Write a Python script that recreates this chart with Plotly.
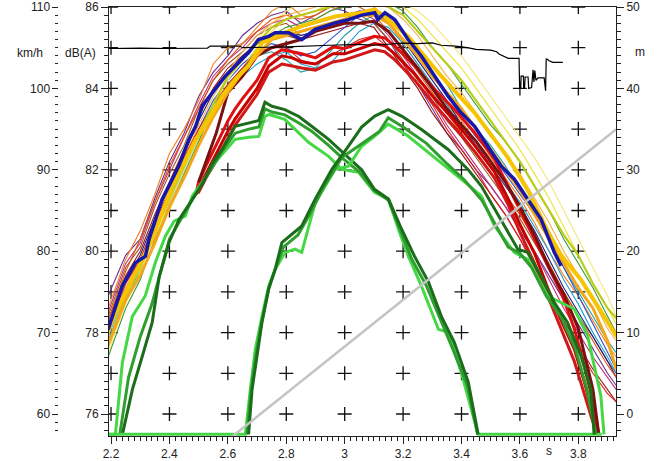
import plotly.graph_objects as go

# ---------------- data ----------------
# common time base for the thin level traces (s)
THIN_T = [2.19, 2.25, 2.30, 2.35, 2.40, 2.45, 2.50, 2.55, 2.60, 2.65, 2.70, 2.75,
          2.80, 2.85, 2.90, 2.95, 3.00, 3.05, 3.10, 3.15, 3.20, 3.25, 3.30, 3.35,
          3.40, 3.45, 3.50, 3.55, 3.60, 3.65, 3.70, 3.75, 3.80, 3.85, 3.90, 3.93]

thin_purple = [78.9, 79.9, 80.3, 81.3, 82.2, 82.9, 83.8, 84.4, 84.8, 85.3, 85.6, 85.8, 85.9, 85.6, 85.8, 86.0, 85.9, 85.7,
               85.6, 85.2, 84.6, 84.1, 83.5, 82.9, 82.5, 82.0, 81.6, 81.1, 80.5, 80.0, 79.4, 78.8, 78.2, 77.6, 77.0, 76.7]
thin_orange = [78.6, 79.8, 80.5, 81.4, 82.4, 83.0, 83.7, 84.6, 85.0, 85.1, 85.5, 85.9, 86.1, 85.8, 85.7, 85.9, 86.1, 86.2,
               86.0, 85.6, 85.1, 84.6, 84.0, 83.6, 83.2, 82.7, 82.3, 81.8, 81.3, 80.7, 80.0, 79.4, 78.9, 78.3, 77.7, 77.4]
thin_brown = [78.4, 79.6, 80.1, 81.1, 81.9, 82.6, 83.5, 84.2, 84.6, 84.9, 85.3, 85.5, 85.6, 85.3, 85.4, 85.5, 85.6, 85.8,
              85.6, 85.2, 84.7, 84.2, 83.8, 83.2, 82.8, 82.3, 81.8, 81.3, 80.8, 80.2, 79.6, 79.0, 78.4, 77.9, 77.3, 77.0]
thin_darkred = [78.3, 79.4, 80.0, 80.9, 81.7, 82.5, 83.3, 84.0, 84.5, 84.8, 85.1, 85.2, 85.3, 85.2, 85.3, 85.4, 85.5, 85.6,
                85.5, 85.0, 84.5, 84.0, 83.4, 82.9, 82.4, 81.9, 81.4, 80.9, 80.3, 79.7, 79.0, 78.3, 77.7, 77.1, 76.6, 76.3]
thin_teal = [77.8, 78.9, 79.5, 80.5, 81.2, 82.0, 82.8, 83.5, 84.1, 84.5, 84.8, 84.9, 84.7, 84.4, 84.5, 84.9, 85.3, 85.6,
             85.8, 85.7, 85.4, 85.0, 84.6, 84.1, 83.5, 83.0, 82.6, 82.1, 81.5, 80.9, 80.3, 79.6, 79.0, 78.4, 77.8, 77.5]
thin_blue = [78.0, 79.1, 79.7, 80.6, 81.4, 82.2, 83.0, 83.7, 84.2, 84.6, 84.9, 85.1, 85.0, 84.8, 84.9, 85.2, 85.5, 85.8,
             85.9, 85.8, 85.4, 84.9, 84.4, 83.9, 83.3, 82.8, 82.4, 81.9, 81.4, 80.9, 80.3, 79.6, 78.9, 78.2, 77.5, 77.1]
thin_green = [77.4, 78.6, 79.3, 80.3, 81.1, 81.9, 82.7, 83.5, 84.1, 84.5, 85.0, 85.3, 85.5, 85.6, 85.7, 85.9, 86.0, 86.1,
              86.2, 86.1, 85.9, 85.5, 85.0, 84.6, 84.1, 83.6, 83.1, 82.7, 82.2, 81.6, 81.0, 80.3, 79.7, 79.1, 78.4, 78.0]
thin_yellow = [77.6, 78.8, 79.4, 80.2, 81.0, 81.8, 82.6, 83.4, 84.0, 84.5, 85.0, 85.4, 85.7, 85.8, 85.9, 86.1, 86.2, 86.3,
               86.3, 86.2, 86.0, 85.7, 85.3, 84.9, 84.5, 84.0, 83.5, 83.0, 82.5, 81.9, 81.3, 80.6, 79.9, 79.2, 78.6, 78.2]
thin_paleyellow = [77.5, 78.7, 79.5, 80.4, 81.2, 82.0, 82.8, 83.6, 84.2, 84.7, 85.2, 85.6, 85.9, 86.1, 86.2, 86.3, 86.3, 86.4,
                   86.4, 86.3, 86.1, 85.9, 85.6, 85.2, 84.8, 84.3, 83.8, 83.3, 82.8, 82.3, 81.7, 81.0, 80.3, 79.6, 78.9, 78.4]
thin_yellowgreen = [77.7, 78.9, 79.6, 80.5, 81.3, 82.1, 82.9, 83.6, 84.3, 84.7, 85.1, 85.5, 85.7, 85.8, 85.9, 86.0, 86.1, 86.2,
                    86.1, 86.0, 85.8, 85.4, 85.0, 84.6, 84.2, 83.7, 83.2, 82.7, 82.2, 81.6, 81.0, 80.4, 79.9, 79.2, 78.6, 78.35]
thin_magenta = [78.5, 79.7, 80.2, 81.2, 82.0, 82.8, 83.6, 84.3, 84.7, 85.0, 85.4, 85.6, 85.7, 85.5, 85.6, 85.7, 85.8, 85.9,
                85.7, 85.3, 84.8, 84.3, 83.7, 83.1, 82.6, 82.1, 81.6, 81.1, 80.6, 80.0, 79.3, 78.6, 78.0, 77.4, 76.9, 76.6]
thin_navy = [78.2, 79.3, 79.9, 80.8, 81.6, 82.4, 83.2, 83.9, 84.4, 84.8, 85.1, 85.3, 85.4, 85.3, 85.4, 85.6, 85.7, 85.9,
             85.9, 85.6, 85.2, 84.7, 84.2, 83.7, 83.1, 82.6, 82.1, 81.6, 81.1, 80.5, 79.8, 79.1, 78.5, 77.9, 77.3, 76.9]
thin_cyan = [77.9, 79.0, 79.6, 80.5, 81.3, 82.1, 82.9, 83.6, 84.0, 84.3, 84.6, 84.8, 84.9, 84.6, 84.5, 84.6, 85.0, 85.4,
             85.6, 85.5, 85.1, 84.6, 84.1, 83.6, 83.0, 82.6, 82.2, 81.7, 81.2, 80.6, 80.0, 79.3, 78.7, 78.0, 77.4, 77.0]
thin_orangered = [78.3, 79.5, 80.3, 81.2, 82.1, 82.8, 83.5, 84.2, 84.7, 85.1, 85.4, 85.7, 85.8, 85.7, 85.8, 86.0, 86.1, 86.0,
                  85.8, 85.4, 84.9, 84.4, 83.9, 83.4, 82.9, 82.4, 81.9, 81.4, 80.9, 80.3, 79.7, 79.0, 78.4, 77.8, 77.2, 76.9]
thin_lightorange = [77.9, 79.1, 79.8, 80.7, 81.5, 82.3, 83.1, 83.8, 84.4, 84.9, 85.3, 85.6, 85.8, 85.9, 86.0, 86.2, 86.2, 86.3,
                    86.2, 86.0, 85.7, 85.3, 84.8, 84.3, 83.9, 83.4, 82.9, 82.4, 81.9, 81.3, 80.7, 80.0, 79.4, 78.8, 78.1, 77.8]
thin_red = [78.1, 79.2, 79.8, 80.7, 81.5, 82.3, 83.0, 83.6, 84.1, 84.5, 84.9, 85.0, 85.0, 84.7, 84.6, 84.8, 85.0, 85.2,
            85.3, 85.0, 84.6, 84.1, 83.6, 83.0, 82.5, 82.0, 81.4, 80.9, 80.3, 79.6, 78.9, 78.2, 77.6, 77.0, 76.5, 76.3]

# red level traces (dB(A))
RED_T = [2.49, 2.495, 2.50, 2.525, 2.55, 2.58, 2.60, 2.625, 2.65, 2.70, 2.74, 2.785, 2.82, 2.853, 2.90, 2.96, 3.00,
         3.058, 3.103, 3.137, 3.172, 3.24, 3.308, 3.376, 3.445, 3.513, 3.559, 3.604, 3.650, 3.695, 3.741, 3.786,
         3.82, 3.85, 3.87]
red_a = [81.4, 81.55, 81.7, 82.1, 82.45, 82.9, 83.2, 83.5, 83.75, 84.2, 84.75, 84.95, 84.9, 84.85, 84.75, 85.02, 84.98,
         85.16, 85.28, 85.24, 85.04, 84.55, 83.98, 83.48, 82.91, 82.26, 81.6, 80.95, 80.29, 79.64, 78.99, 78.1,
         77.2, 76.3, 75.5]
red_b = [81.4, 81.5, 81.55, 81.9, 82.25, 82.65, 82.95, 83.25, 83.5, 84.0, 84.55, 84.8, 84.75, 84.65, 84.6, 84.85, 84.85,
         85.0, 85.1, 85.05, 84.85, 84.35, 83.75, 83.2, 82.6, 81.95, 81.3, 80.6, 79.95, 79.1, 78.3, 77.6,
         76.8, 76.0, 75.5]
red_c = [81.4, 81.45, 81.45, 81.8, 82.1, 82.5, 82.8, 83.1, 83.35, 83.85, 84.4, 84.6, 84.55, 84.5, 84.45, 84.65, 84.7,
         84.85, 84.95, 84.9, 84.7, 84.2, 83.6, 83.05, 82.45, 81.8, 81.15, 80.4, 79.7, 78.9, 78.1, 77.3,
         76.5, 75.8, 75.5]

MAROON_T = [2.50, 2.53, 2.56, 2.58, 2.60, 2.65, 2.70, 2.75, 2.80, 2.85, 2.90, 2.95, 3.00, 3.05, 3.10, 3.15, 3.20,
            3.25, 3.30, 3.35, 3.40, 3.45, 3.50, 3.55, 3.60, 3.65, 3.70, 3.75, 3.80, 3.85, 3.87]
maroon = [81.7, 82.3, 82.9, 83.4, 83.9, 84.3, 84.8, 85.0, 85.1, 85.2, 85.4, 85.5, 85.6, 85.6, 85.65, 85.4, 84.95,
          84.5, 84.0, 83.5, 83.1, 82.7, 82.2, 81.7, 81.1, 80.4, 79.6, 78.95, 78.1, 76.6, 75.5]

BLUE_T = [2.19, 2.239, 2.284, 2.318, 2.330, 2.353, 2.375, 2.398, 2.432, 2.467, 2.490, 2.512, 2.546, 2.591, 2.625,
          2.648, 2.671, 2.705, 2.740, 2.762, 2.808, 2.853, 2.899, 2.967, 3.013, 3.058, 3.103, 3.113, 3.138, 3.172,
          3.217, 3.263, 3.308, 3.354, 3.399, 3.445, 3.490, 3.536, 3.581, 3.627, 3.672, 3.718, 3.741]
blue = [78.08, 79.15, 79.72, 79.88, 80.29, 80.79, 81.28, 81.60, 82.09, 82.75, 83.07, 83.57, 83.89, 84.30, 84.55,
        84.71, 84.88, 85.20, 85.28, 85.37, 85.37, 85.20, 85.45, 85.61, 85.69, 85.80, 85.86, 85.69, 85.86, 85.69,
        85.20, 84.79, 84.30, 83.81, 83.40, 83.07, 82.58, 82.09, 81.77, 81.28, 80.79, 79.97, 79.64]

GOLD_T = [2.182, 2.216, 2.250, 2.296, 2.341, 2.375, 2.410, 2.444, 2.490, 2.535, 2.580, 2.625, 2.671, 2.717, 2.762,
          2.853, 2.967, 3.058, 3.103, 3.149, 3.217, 3.331, 3.445, 3.559, 3.627, 3.695, 3.741, 3.809, 3.853, 3.900, 3.932]
gold = [77.92, 78.50, 78.99, 79.64, 80.29, 80.95, 81.60, 82.09, 82.75, 83.24, 83.81, 84.22, 84.55, 85.12, 85.28,
        85.53, 85.77, 85.86, 85.94, 85.69, 85.28, 84.30, 83.40, 82.30, 81.50, 80.50, 79.90, 79.30, 78.80, 78.30, 77.90]
orange_thick = [77.7, 78.8, 79.4, 80.2, 81.1, 81.8, 82.6, 83.3, 83.9, 84.4, 84.8, 85.2, 85.3, 85.4, 85.5, 85.6, 85.7, 85.8,
                85.8, 85.6, 85.2, 84.8, 84.3, 83.9, 83.5, 83.0, 82.5, 82.0, 81.5, 80.9, 80.3, 79.7, 79.1, 78.6, 77.8, 77.1]

# microphone traces, first pass-by (left) and second (right)
LD_T = [2.239, 2.273, 2.307, 2.341, 2.365, 2.399, 2.433, 2.478, 2.512, 2.546, 2.580, 2.625, 2.672, 2.706, 2.727,
        2.751, 2.795, 2.843, 2.887, 2.945, 2.990, 3.058, 3.102, 3.150, 3.195, 3.239, 3.287, 3.331, 3.375, 3.423, 3.457]
left_dark = [75.5, 76.6, 77.42, 78.25, 79.38, 80.22, 80.78, 81.28, 81.64, 82.14, 82.5, 83.07, 83.16, 83.21, 83.66,
             83.56, 83.48, 83.31, 83.07, 82.75, 82.45, 82.0, 81.52, 81.28, 80.54, 79.88, 79.24, 78.40, 77.77, 76.79, 75.5]
LM_T = [2.23, 2.26, 2.30, 2.34, 2.37, 2.40, 2.44, 2.48, 2.51, 2.55, 2.58, 2.625, 2.672, 2.706, 2.727, 2.751, 2.795,
        2.843, 2.887, 2.945, 2.990, 3.05, 3.10, 3.15, 3.19, 3.23, 3.28, 3.33, 3.37, 3.42, 3.455]
left_mid = [75.5, 76.9, 77.9, 78.7, 79.5, 80.3, 80.8, 81.3, 81.65, 82.1, 82.45, 82.9, 83.0, 83.05, 83.5, 83.42, 83.35,
            83.15, 82.95, 82.6, 82.3, 81.95, 81.5, 81.25, 80.5, 79.8, 79.15, 78.3, 77.6, 76.7, 75.5]
LB_T = [2.19, 2.215, 2.239, 2.273, 2.317, 2.352, 2.386, 2.416, 2.454, 2.478, 2.512, 2.546, 2.580, 2.625, 2.672,
        2.706, 2.727, 2.741, 2.795, 2.877, 2.945, 2.990, 3.048, 3.102, 3.150, 3.184, 3.218, 3.263, 3.321, 3.355,
        3.399, 3.444, 3.457, 3.70, 3.88]
left_bright = [75.5, 75.5, 77.27, 78.40, 78.90, 79.73, 80.37, 80.74, 80.86, 81.35, 81.69, 82.09, 82.38, 82.75, 82.80,
               82.82, 83.31, 83.36, 83.24, 82.67, 82.33, 82.01, 81.94, 81.45, 81.28, 80.54, 79.88, 79.14, 78.08, 78.01,
               77.03, 75.80, 75.5, 75.5, 75.5]

RD_T = [2.671, 2.683, 2.700, 2.717, 2.740, 2.762, 2.785, 2.853, 2.899, 2.956, 3.013, 3.058, 3.103, 3.149, 3.195,
        3.263, 3.354, 3.422, 3.468, 3.513, 3.559, 3.593, 3.627, 3.672, 3.718, 3.763, 3.809, 3.843, 3.854]
right_dark = [75.5, 76.61, 77.43, 78.26, 79.07, 79.56, 80.21, 80.62, 81.28, 82.01, 82.58, 83.05, 83.32, 83.48, 83.32,
              82.99, 82.50, 82.01, 81.60, 81.03, 80.46, 80.05, 79.97, 79.39, 78.74, 78.25, 77.43, 76.61, 75.5]
RM_T = [2.665, 2.68, 2.697, 2.717, 2.740, 2.762, 2.79, 2.84, 2.88, 2.93, 2.99, 3.04, 3.08, 3.12, 3.149, 3.20, 3.28,
        3.35, 3.41, 3.47, 3.52, 3.56, 3.60, 3.64, 3.69, 3.74, 3.79, 3.83, 3.86]
right_mid = [75.5, 76.6, 77.5, 78.3, 79.1, 79.55, 80.1, 80.4, 80.9, 81.6, 82.3, 82.55, 82.75, 82.95, 83.28, 83.05,
             82.65, 82.15, 81.75, 81.25, 80.6, 80.1, 79.95, 79.6, 78.9, 78.4, 77.6, 76.6, 75.5]
RB_T = [2.19, 2.660, 2.677, 2.694, 2.717, 2.740, 2.762, 2.796, 2.830, 2.853, 2.899, 2.967, 3.013, 3.058, 3.103,
        3.149, 3.217, 3.331, 3.399, 3.468, 3.513, 3.581, 3.627, 3.695, 3.786, 3.832, 3.877, 3.888]
right_bright = [75.5, 75.5, 76.61, 77.59, 78.41, 79.15, 79.56, 79.97, 80.05, 79.97, 81.19, 82.01, 82.09, 82.58, 82.83,
                83.12, 82.83, 82.18, 81.77, 81.36, 80.62, 79.97, 79.80, 78.90, 78.58, 77.92, 76.45, 75.5]

# vehicle speed (km/h)
SPEED_T = [2.19, 2.30, 2.40, 2.53, 2.54, 2.64, 2.65, 2.80, 2.95, 3.05, 3.10, 3.20, 3.25, 3.30, 3.33, 3.38, 3.42,
           3.45, 3.50, 3.52, 3.53, 3.54, 3.56, 3.597, 3.599, 3.603, 3.604, 3.612, 3.613, 3.616, 3.618, 3.628,
           3.630, 3.640, 3.645, 3.648, 3.651, 3.655, 3.662, 3.683, 3.688, 3.690, 3.693, 3.700, 3.713, 3.747]
speed = [104.9, 104.95, 104.9, 104.95, 105.2, 105.2, 105.0, 105.1, 105.3, 105.4, 105.3, 105.55, 105.5, 105.6, 105.3,
         105.2, 105.0, 104.8, 104.7, 104.5, 104.2, 104.0, 103.7, 103.7, 100.1, 100.1, 101.5, 101.5, 100.0, 100.1,
         101.4, 101.4, 100.0, 100.1, 102.3, 100.8, 102.2, 101.0, 101.3, 101.3, 99.7, 103.6, 103.6, 103.4, 103.2, 103.2]

# vehicle distance (m)
DIST_T = [2.60, 3.93]
distance = [-3.2, 35.0]

# axis ticks
T_TICKS = [2.2, 2.4, 2.6, 2.8, 3.0, 3.2, 3.4, 3.6, 3.8]
DB_STEPS = [76, 77, 78, 79, 80, 81, 82, 83, 84, 85, 86]

# ---------------- figure ----------------
fig = go.Figure()

# grid crosses
cx = [t for t in T_TICKS for _ in DB_STEPS]
cy = [d for _ in T_TICKS for d in DB_STEPS]
fig.add_trace(go.Scatter(x=cx, y=cy, mode="markers",
                         marker=dict(symbol="cross-thin", size=10, line=dict(width=1.3, color="#111")),
                         hoverinfo="skip"))

fig.add_trace(go.Scatter(x=DIST_T, y=distance, yaxis="y2", mode="lines",
                         line=dict(color="#c4c4c4", width=2.5)))
fig.add_trace(go.Scatter(x=SPEED_T, y=speed, yaxis="y3", mode="lines",
                         line=dict(color="#000", width=1.2)))

thin = [
    (thin_purple, "#6a2c91"), (thin_orange, "#f08020"), (thin_brown, "#9c5a2a"),
    (thin_darkred, "#a01818"), (thin_teal, "#1fa0a0"), (thin_blue, "#3050d0"),
    (thin_green, "#3a9a3a"), (thin_yellow, "#efe030"), (thin_paleyellow, "#f4e77a"),
    (thin_magenta, "#c03080"), (thin_navy, "#202080"), (thin_cyan, "#20a0d0"),
    (thin_orangered, "#e05010"), (thin_lightorange, "#f3b04a"), (thin_red, "#e02020"),
]
for vals, col in thin:
    fig.add_trace(go.Scatter(x=THIN_T, y=vals, mode="lines", line=dict(color=col, width=1.1)))
fig.add_trace(go.Scatter(x=THIN_T, y=thin_yellowgreen, mode="lines", line=dict(color="#b8cc18", width=2.2)))

for vals, col in [(red_c, "#d01818"), (red_b, "#c80000"), (red_a, "#e01010")]:
    fig.add_trace(go.Scatter(x=RED_T, y=vals, mode="lines", line=dict(color=col, width=3)))
fig.add_trace(go.Scatter(x=MAROON_T, y=maroon, mode="lines", line=dict(color="#7a1010", width=3)))

greens = [
    (LB_T, left_bright, "#45d845"), (LM_T, left_mid, "#2f9e2f"), (LD_T, left_dark, "#1b6d1b"),
    (RB_T, right_bright, "#45d845"), (RM_T, right_mid, "#2f9e2f"), (RD_T, right_dark, "#1b6d1b"),
]
for tt, vals, col in greens:
    fig.add_trace(go.Scatter(x=tt, y=vals, mode="lines", line=dict(color=col, width=3)))

fig.add_trace(go.Scatter(x=THIN_T, y=orange_thick, mode="lines", line=dict(color="#f2a61c", width=3)))
fig.add_trace(go.Scatter(x=GOLD_T, y=gold, mode="lines", line=dict(color="#f7c400", width=4)))
fig.add_trace(go.Scatter(x=BLUE_T, y=blue, mode="lines", line=dict(color="#1818a8", width=3.5)))

tickfont = dict(family="Liberation Sans, Arial, sans-serif", size=12, color="#222")
axcol = "#222"

fig.update_layout(
    width=658, height=461,
    margin=dict(l=0, r=42, t=7, b=24),
    paper_bgcolor="white", plot_bgcolor="white",
    showlegend=False,
    xaxis=dict(domain=[104 / 616, 1], range=[2.193, 3.929], tick0=2.2, dtick=0.2,
               showgrid=False, zeroline=False, showline=True, linecolor=axcol, linewidth=1, mirror=True,
               ticks="outside", ticklen=7, tickcolor=axcol, tickfont=tickfont,
               minor=dict(tick0=2.2, dtick=0.02, ticks="outside", ticklen=4, tickcolor=axcol, showgrid=False)),
    yaxis=dict(range=[75.46, 86], tick0=76, dtick=2, anchor="x", side="left",
               showgrid=False, zeroline=False, showline=True, linecolor=axcol, linewidth=1,
               ticks="outside", ticklen=7, tickcolor=axcol, tickfont=tickfont,
               minor=dict(tick0=76, dtick=0.2, ticks="outside", ticklen=4, tickcolor=axcol, showgrid=False)),
    yaxis2=dict(range=[-2.7, 50], tick0=0, dtick=10, overlaying="y", anchor="x", side="right",
                showgrid=False, zeroline=False, showline=True, linecolor=axcol, linewidth=1,
                ticks="outside", ticklen=7, tickcolor=axcol, tickfont=tickfont,
                minor=dict(tick0=0, dtick=1, ticks="outside", ticklen=4, tickcolor=axcol, showgrid=False)),
    yaxis3=dict(range=[57.3, 110], tick0=60, dtick=10, overlaying="y", anchor="free", position=53 / 616,
                side="left", showgrid=False, zeroline=False, showline=False,
                ticks="outside", ticklen=6, tickcolor=axcol, tickfont=tickfont,
                minor=dict(tick0=60, dtick=1, ticks="outside", ticklen=3, tickcolor=axcol, showgrid=False)),
)

labfont = dict(family="Liberation Sans, Arial, sans-serif", size=12, color="#222")
for txt, px, py in [("km/h", 24, 53), ("dB(A)", 75, 53), ("m", 640, 52), ("s", 548, 452)]:
    fig.add_annotation(text=txt, xref="paper", yref="paper", x=px / 616, y=1 - (py - 7) / 430,
                       xanchor="center", yanchor="middle", showarrow=False, font=labfont)

fig.write_html("out.html")
